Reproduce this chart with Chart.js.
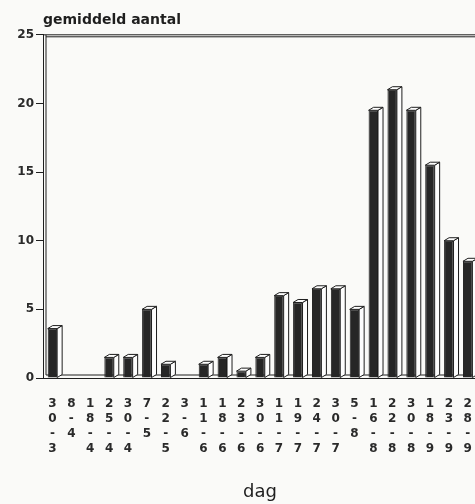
<!DOCTYPE html>
<html lang="nl">
<head>
  <meta charset="UTF-8">
  <title>gemiddeld aantal per dag</title>
  <script src="https://cdn.jsdelivr.net/npm/chart.js"></script>
  <style>
    html, body { margin: 0; padding: 0; background: #fafaf8; overflow: hidden; }
    #wrap { width: 484px; height: 504px; }
  </style>
</head>
<body>
  <div id="wrap"><canvas id="chart"></canvas></div>

  <script>
    // dates (dag-maand)
    const days = ['30-3', '8-4', '18-4', '25-4', '30-4', '7-5', '22-5', '3-6', '11-6', '18-6', '23-6', '30-6',
      '11-7', '19-7', '24-7', '30-7', '5-8', '16-8', '22-8', '30-8', '18-9', '23-9', '28-9'];
    // gemiddeld aantal
    const counts = [3.6, 0, 0, 1.5, 1.5, 5, 1, 0, 1, 1.5, 0.5, 1.5,
      6, 5.5, 6.5, 6.5, 5, 19.5, 21, 19.5, 15.5, 10, 8.5];
    const yTicks = [0, 5, 10, 15, 20, 25];

    const ink = '#1e1e1e';
    const dx = 5, dy = -3;

    // labels are printed one character per line
    const stacked = days.map(d => d.split(''));

    // fake 3d: side panel, top cap, back wall and floor
    const depth = {
      id: 'depth',
      beforeDatasetsDraw(chart) {
        const { ctx, chartArea } = chart;
        const base = chart.scales.y.getPixelForValue(0);
        ctx.save();
        ctx.strokeStyle = ink;
        ctx.lineWidth = 1;
        ctx.beginPath();
        ctx.moveTo(chartArea.left + 3, base + dy);
        ctx.lineTo(chartArea.right + 10, base + dy);
        ctx.moveTo(chartArea.left + 3, chartArea.top);
        ctx.lineTo(chartArea.left + 3, base + dy);
        ctx.moveTo(chartArea.left, chartArea.top);
        ctx.lineTo(chartArea.right + 10, chartArea.top);
        ctx.moveTo(chartArea.left + 3, chartArea.top + 2);
        ctx.lineTo(chartArea.right + 10, chartArea.top + 2);
        ctx.stroke();
        ctx.restore();
      },
      afterDatasetsDraw(chart) {
        const { ctx } = chart;
        ctx.save();
        ctx.strokeStyle = ink;
        ctx.fillStyle = '#fdfdfd';
        ctx.lineWidth = 1;
        chart.getDatasetMeta(0).data.forEach((bar, i) => {
          if (!counts[i]) return;
          const { x, y, base, width } = bar.getProps(['x', 'y', 'base', 'width'], true);
          const l = x - width / 2, r = x + width / 2;
          ctx.beginPath();
          ctx.moveTo(r, y);
          ctx.lineTo(r + dx, y + dy);
          ctx.lineTo(r + dx, base + dy);
          ctx.lineTo(r, base);
          ctx.closePath();
          ctx.fill();
          ctx.stroke();
          ctx.beginPath();
          ctx.moveTo(l, y);
          ctx.lineTo(l + dx, y + dy);
          ctx.lineTo(r + dx, y + dy);
          ctx.lineTo(r, y);
          ctx.closePath();
          ctx.fill();
          ctx.stroke();
        });
        ctx.restore();
      }
    };

    new Chart(document.getElementById('chart'), {
      type: 'bar',
      data: {
        labels: stacked,
        datasets: [{
          data: counts,
          backgroundColor: '#262626',
          borderColor: ink,
          borderWidth: 1,
          barPercentage: 0.5,
          categoryPercentage: 1
        }]
      },
      options: {
        responsive: true,
        maintainAspectRatio: false,
        animation: false,
        layout: { padding: { top: 0, right: 2, bottom: 0, left: 0 } },
        plugins: {
          legend: { display: false },
          tooltip: { enabled: false },
          title: {
            display: true,
            text: 'gemiddeld aantal',
            align: 'start',
            fullSize: false,
            color: ink,
            font: { family: 'DejaVu Sans', size: 14, weight: 'bold' },
            padding: { top: 12, bottom: 6 }
          }
        },
        scales: {
          x: {
            offset: true,
            grid: { display: false, drawTicks: true, tickLength: 6, color: ink },
            border: { display: true, color: ink, width: 1 },
            ticks: {
              autoSkip: false,
              maxRotation: 0,
              minRotation: 0,
              color: '#2a2a2a',
              padding: 12,
              font: { family: 'DejaVu Sans', size: 12, weight: 'bold', lineHeight: 1.25 }
            },
            title: {
              display: true,
              text: 'dag',
              color: ink,
              padding: { top: 4, bottom: 1 },
              font: { family: 'DejaVu Sans', size: 18 }
            },
            afterFit(scale) { scale.height = 126; }
          },
          y: {
            min: 0,
            max: 25,
            afterBuildTicks(scale) { scale.ticks = yTicks.map(v => ({ value: v })); },
            grid: { drawOnChartArea: false, drawTicks: true, tickLength: 7, color: ink },
            border: { display: true, color: ink, width: 1 },
            ticks: {
              color: '#2a2a2a',
              padding: 2,
              font: { family: 'DejaVu Sans', size: 12, weight: 'bold' }
            },
            afterFit(scale) { scale.width = 43; }
          }
        }
      },
      plugins: [depth]
    });
  </script>
</body>
</html>
